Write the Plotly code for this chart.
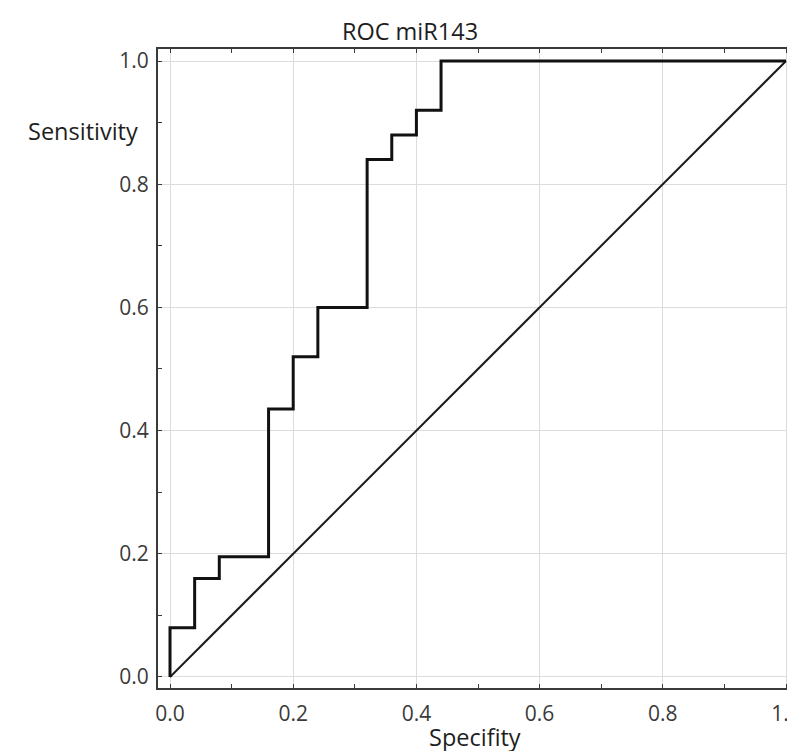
import plotly.graph_objects as go

# ROC curve points (1 - specificity on x, sensitivity on y)
fpr = [0.0, 0.04, 0.08, 0.16, 0.20, 0.24, 0.32, 0.36, 0.40, 0.44, 1.0]
tpr = [0.0, 0.08, 0.16, 0.195, 0.435, 0.52, 0.60, 0.84, 0.88, 0.92, 1.0]

# reference (chance) line
ref_x = [0.0, 1.0]
ref_y = [0.0, 1.0]

tick_vals = [0.0, 0.2, 0.4, 0.6, 0.8, 1.0]
tick_text = ["0.0", "0.2", "0.4", "0.6", "0.8", "1.0"]

# the page body has an 8px default margin; the figure is sized to end at the window edge
OFF = 8
W, H = 795 - OFF, 751 - OFF
FONT = "Open Sans"

fig = go.Figure()
fig.add_trace(go.Scatter(x=ref_x, y=ref_y, mode="lines",
                         line=dict(color="#1a1a1a", width=2), showlegend=False,
                         hoverinfo="skip"))
fig.add_trace(go.Scatter(x=fpr, y=tpr, mode="lines", line_shape="vh",
                         line=dict(color="#111111", width=3), showlegend=False))

axis_common = dict(
    tickmode="array", tickvals=tick_vals, ticktext=tick_text,
    showgrid=True, gridcolor="#dcdcdc", gridwidth=1,
    zeroline=False, showline=True, linecolor="#3a3a3a", linewidth=2,
    ticks="inside", ticklen=4, tickwidth=1, tickcolor="#3a3a3a",
    tickfont=dict(family=FONT, size=21, color="#3a3a3a"),
    automargin=False, ticklabeloverflow="allow",
    minor=dict(tickmode="linear", tick0=0, dtick=0.1, ticks="inside", ticklen=4,
               tickcolor="#3a3a3a", showgrid=False),
)

fig.update_xaxes(range=[-0.0195, 1.0146], mirror="ticks", ticklabelstandoff=6,
                 **axis_common)
fig.update_yaxes(range=[-0.0179, 1.0195], mirror=False, ticklabelstandoff=3,
                 **axis_common)

L, T, B = 158 - OFF, 49 - OFF, 751 - 688
PW, PH = W - L, (H - B) - T

def px(sx):
    return (sx - OFF - L) / PW

def py(sy):
    return ((H - B) - (sy - OFF)) / PH

fig.update_layout(
    width=W, height=H,
    margin=dict(l=L, r=0, t=T, b=B, autoexpand=False),
    plot_bgcolor="white", paper_bgcolor="white",
    font=dict(family=FONT, color="#222222"),
    title=dict(text="ROC miR143", x=(410 - OFF) / W, xanchor="center", xref="container",
               y=1 - (32 - OFF) / H, yanchor="middle", yref="container",
               font=dict(family=FONT, size=23.5, color="#1e1e1e")),
    annotations=[
        dict(text="Sensitivity", xref="paper", yref="paper",
             x=px(83), y=py(131), xanchor="center", yanchor="middle", showarrow=False,
             font=dict(family=FONT, size=23.5, color="#1e1e1e")),
        dict(text="Specifity", xref="paper", yref="paper",
             x=px(475), y=py(737), xanchor="center", yanchor="middle", showarrow=False,
             font=dict(family=FONT, size=23.5, color="#1e1e1e")),
    ],
)

fig.write_html("out.html")
